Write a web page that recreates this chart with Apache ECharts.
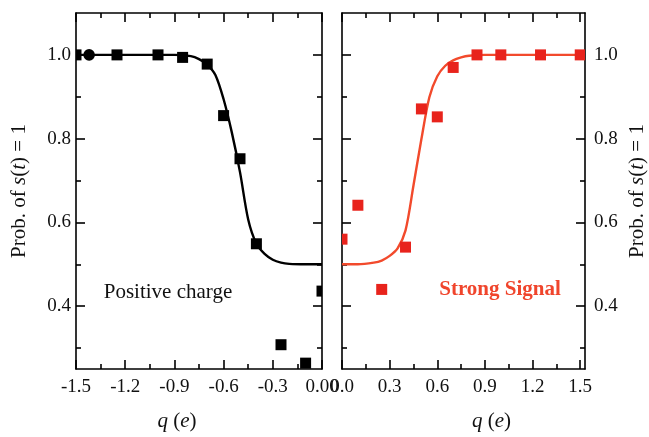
<!DOCTYPE html>
<html>
<head>
<meta charset="utf-8">
<script src="https://cdn.jsdelivr.net/npm/echarts@6/dist/echarts.min.js"></script>
<style>
html,body{margin:0;padding:0;background:#fff;}
#chart{width:649px;height:437px;}
</style>
</head>
<body>
<div id="chart"></div>
<script>
// ---- data ----
// Left panel: positive charge (black squares + black fitted curve)
const leftQ = [-1.5, -1.25, -1.0, -0.85, -0.7, -0.6, -0.5, -0.4, -0.25, -0.1, 0.0];
const leftP = [1.0, 1.0, 1.0, 0.994, 0.978, 0.855, 0.752, 0.549, 0.308, 0.264, 0.436];
const leftCircleQ = [-1.42];
const leftCircleP = [1.0];
const leftCurveQ = [-1.5, -1.2, -0.9, -0.8, -0.75, -0.7, -0.65, -0.6, -0.55, -0.5, -0.45, -0.4, -0.35, -0.3, -0.25, -0.2, -0.1, 0.0];
const leftCurveP = [1.0, 1.0, 1.0, 0.997, 0.99, 0.977, 0.952, 0.894, 0.815, 0.72, 0.607, 0.549, 0.525, 0.511, 0.504, 0.501, 0.5, 0.5];

// Right panel: strong signal (red squares + red fitted curve)
const rightQ = [0.0, 0.1, 0.25, 0.4, 0.5, 0.6, 0.7, 0.85, 1.0, 1.25, 1.5];
const rightP = [0.56, 0.641, 0.44, 0.541, 0.871, 0.852, 0.970, 1.0, 1.0, 1.0, 1.0];
const rightCurveQ = [0.0, 0.1, 0.2, 0.25, 0.3, 0.35, 0.4, 0.45, 0.5, 0.55, 0.6, 0.65, 0.7, 0.75, 0.8, 0.9, 1.2, 1.53];
const rightCurveP = [0.5, 0.5, 0.504, 0.509, 0.52, 0.538, 0.581, 0.688, 0.799, 0.899, 0.949, 0.974, 0.987, 0.994, 0.998, 1.0, 1.0, 1.0];

// Tick values and labels
const leftXTicks = [-1.5, -1.2, -0.9, -0.6, -0.3, 0.0];
const leftXLabels = ['-1.5', '-1.2', '-0.9', '-0.6', '-0.3', '0.00'];
const leftXMinor = [-1.35, -1.05, -0.75, -0.45, -0.15];
const rightXTicks = [0.0, 0.3, 0.6, 0.9, 1.2, 1.5];
const rightXLabels = ['0.0', '0.3', '0.6', '0.9', '1.2', '1.5'];
const rightXMinor = [0.15, 0.45, 0.75, 1.05, 1.35];
const yTicks = [0.4, 0.6, 0.8, 1.0];
const yLabels = ['0.4', '0.6', '0.8', '1.0'];
const yMinor = [0.3, 0.5, 0.7, 0.9];

const panelText = ['Positive charge', 'Strong Signal'];
const xName = '{i|q} ({i|e})';
const yName = 'Prob. of {i|s}({i|t}) = 1';

// ---- styling ----
const serif = '"Liberation Serif", "DejaVu Serif", serif';
const BLACK = '#000';
const RED_MARK = '#e8231c';
const RED_LINE = '#f24a2c';
const RED_TEXT = '#f0452c';

function pickLabel(ticks, labels) {
  return function (v) {
    let best = 0, d = Infinity;
    ticks.forEach((t, i) => { const dd = Math.abs(t - v); if (dd < d) { d = dd; best = i; } });
    return d < 1e-6 ? labels[best] : '';
  };
}

const nameStyle = {
  fontFamily: serif, fontSize: 21, color: '#111',
  rich: { i: { fontFamily: serif, fontSize: 21, fontStyle: 'italic', color: '#111' } }
};

function axisSet(gridIndex, min, max, majors, labels, minors, mainPos, otherPos, opts) {
  const base = { type: 'value', gridIndex, min, max, splitLine: { show: false } };
  const line = { show: true, onZero: false, lineStyle: { color: BLACK, width: 1.6 } };
  const noLine = { show: false, onZero: false };
  const tickMaj = { show: true, inside: true, length: 9, customValues: majors, lineStyle: { color: BLACK, width: 1.6 } };
  const tickMin = { show: true, inside: true, length: 5, customValues: minors, lineStyle: { color: BLACK, width: 1.6 } };
  const main = Object.assign({}, base, {
    position: mainPos,
    axisLine: line,
    axisTick: tickMaj,
    axisLabel: { show: true, customValues: majors, formatter: pickLabel(majors, labels),
      fontFamily: serif, fontSize: 19, color: '#111', margin: opts.labelMargin },
    name: opts.name, nameLocation: 'middle', nameGap: opts.nameGap, nameTextStyle: opts.nameTextStyle
  });
  const mainMinor = Object.assign({}, base, { position: mainPos, axisLine: noLine, axisTick: tickMin, axisLabel: { show: false } });
  const other = Object.assign({}, base, { position: otherPos, axisLine: line, axisTick: tickMaj, axisLabel: { show: false } });
  const otherMinor = Object.assign({}, base, { position: otherPos, axisLine: noLine, axisTick: tickMin, axisLabel: { show: false } });
  return [main, mainMinor, other, otherMinor];
}

const xAxes = [].concat(
  axisSet(0, -1.5, 0, leftXTicks, leftXLabels, leftXMinor, 'bottom', 'top',
    { labelMargin: 9, name: xName, nameGap: 42,
      nameTextStyle: Object.assign({}, nameStyle, { padding: [0, 44, 0, 0] }) }),
  axisSet(1, 0, 1.53, rightXTicks, rightXLabels, rightXMinor, 'bottom', 'top',
    { labelMargin: 9, name: xName, nameGap: 42,
      nameTextStyle: Object.assign({}, nameStyle, { padding: [0, 0, 0, 56] }) })
);
const yAxes = [].concat(
  axisSet(0, 0.25, 1.1, yTicks, yLabels, yMinor, 'left', 'right',
    { labelMargin: 5, name: yName, nameGap: 46, nameTextStyle: nameStyle }),
  axisSet(1, 0.25, 1.1, yTicks, yLabels, yMinor, 'right', 'left',
    { labelMargin: 9, name: yName, nameGap: 42, nameTextStyle: nameStyle })
);

function squareSeries(xi, yi, qs, ps, color) {
  return {
    type: 'custom', xAxisIndex: xi, yAxisIndex: yi, clip: true, z: 4,
    data: qs.map((q, i) => [q, ps[i]]),
    renderItem: function (params, api) {
      const c = api.coord([api.value(0), api.value(1)]);
      const s = 11;
      return { type: 'rect', shape: { x: c[0] - s / 2, y: c[1] - s / 2, width: s, height: s }, style: { fill: color } };
    }
  };
}
function circleSeries(xi, yi, qs, ps, color) {
  return {
    type: 'custom', xAxisIndex: xi, yAxisIndex: yi, clip: true, z: 4,
    data: qs.map((q, i) => [q, ps[i]]),
    renderItem: function (params, api) {
      const c = api.coord([api.value(0), api.value(1)]);
      return { type: 'circle', shape: { cx: c[0], cy: c[1], r: 5.8 }, style: { fill: color } };
    }
  };
}
function curveSeries(xi, yi, qs, ps, color) {
  return {
    type: 'line', xAxisIndex: xi, yAxisIndex: yi, clip: true, z: 3,
    data: qs.map((q, i) => [q, ps[i]]),
    smooth: 0.3, showSymbol: false, symbol: 'none',
    lineStyle: { color: color, width: 2.4 }, silent: true
  };
}

const chart = echarts.init(document.getElementById('chart'), null, { renderer: 'canvas' });
chart.setOption({
  backgroundColor: '#fff',
  animation: false,
  grid: [
    { left: 76, top: 13, width: 246, height: 361, containLabel: false },
    { left: 342, top: 13, width: 245, height: 361, containLabel: false }
  ],
  xAxis: xAxes,
  yAxis: yAxes,
  series: [
    curveSeries(0, 0, leftCurveQ, leftCurveP, BLACK),
    squareSeries(0, 0, leftQ, leftP, BLACK),
    circleSeries(0, 0, leftCircleQ, leftCircleP, BLACK),
    curveSeries(4, 4, rightCurveQ, rightCurveP, RED_LINE),
    squareSeries(4, 4, rightQ, rightP, RED_MARK)
  ],
  graphic: [
    { type: 'text', x: 168, y: 292, style: { text: panelText[0], fontFamily: serif, fontSize: 21, fill: '#111', align: 'center', verticalAlign: 'middle' } },
    { type: 'text', x: 500, y: 290, style: { text: panelText[1], fontFamily: serif, fontSize: 21, fontWeight: 'bold', fill: RED_TEXT, align: 'center', verticalAlign: 'middle' } }
  ]
});
</script>
</body>
</html>
